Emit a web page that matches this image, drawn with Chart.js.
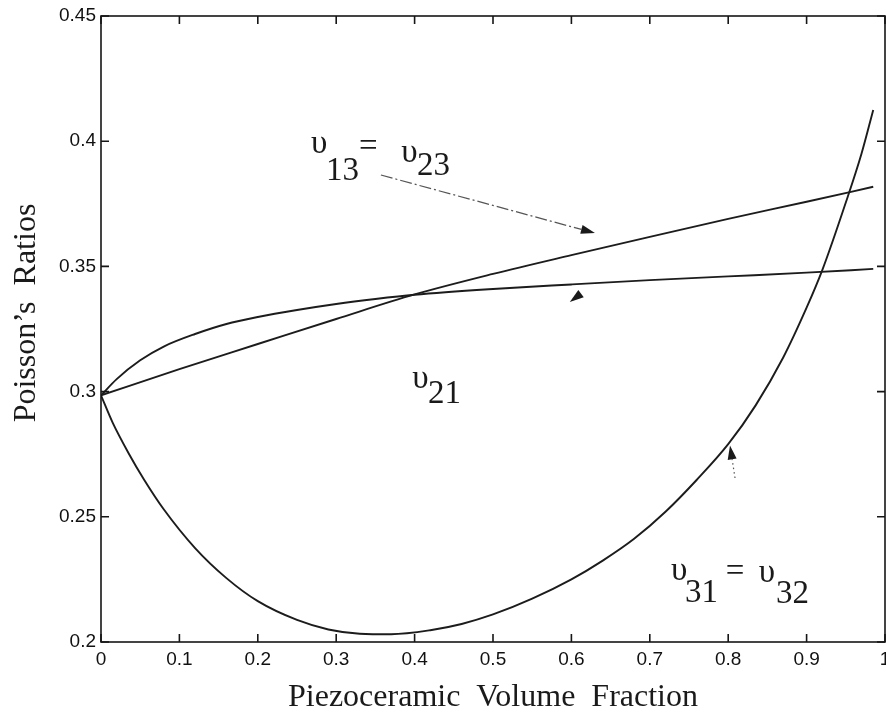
<!DOCTYPE html>
<html>
<head>
<meta charset="utf-8">
<script src="https://cdn.jsdelivr.net/npm/chart.js@4.4.0/dist/chart.umd.min.js"></script>
<style>
  body { margin: 0; background: #fff; }
  canvas { display: block; }
</style>
</head>
<body>
<canvas id="poisson" width="886" height="727"></canvas>
<script>
// Axis ticks and labels
const xTicks = [0, 0.1, 0.2, 0.3, 0.4, 0.5, 0.6, 0.7, 0.8, 0.9, 1];
const xTickLabels = ['0', '0.1', '0.2', '0.3', '0.4', '0.5', '0.6', '0.7', '0.8', '0.9', '1'];
const yTicks = [0.2, 0.25, 0.3, 0.35, 0.4, 0.45];
const yTickLabels = ['0.2', '0.25', '0.3', '0.35', '0.4', '0.45'];

// nu13 = nu23
const nu13X = [0, 0.1, 0.2, 0.3, 0.4, 0.5, 0.6, 0.7, 0.8, 0.9, 0.985];
const nu13Y = [0.2985, 0.309, 0.319, 0.329, 0.3388, 0.347, 0.3545, 0.3618, 0.369, 0.3758, 0.3818];

// nu21
const nu21X = [0, 0.02, 0.05, 0.08, 0.12, 0.16, 0.2, 0.25, 0.3, 0.35, 0.4, 0.5, 0.6, 0.7, 0.8, 0.9, 0.985];
const nu21Y = [0.2985, 0.305, 0.3125, 0.318, 0.323, 0.327, 0.3298, 0.3326, 0.335, 0.337, 0.3387, 0.341, 0.3428, 0.3445, 0.346, 0.3475, 0.349];

// nu31 = nu32
const nu31X = [0, 0.015, 0.035, 0.055, 0.08, 0.12, 0.16, 0.2, 0.25, 0.29, 0.33, 0.37, 0.42, 0.46, 0.5,
               0.55, 0.6, 0.64, 0.68, 0.72, 0.76, 0.8, 0.835, 0.87, 0.9, 0.92, 0.95, 0.97, 0.985];
const nu31Y = [0.2985, 0.2875, 0.2755, 0.2648, 0.253, 0.2375, 0.2255, 0.2163, 0.2088, 0.205, 0.2033, 0.2031, 0.2047, 0.2072, 0.211,
               0.2173, 0.225, 0.2325, 0.2412, 0.252, 0.2648, 0.279, 0.2945, 0.3135, 0.3335, 0.3485, 0.3755, 0.395, 0.4125];

// text labels inside the plot, placed in data units (left, baseline)
const labelPieces = [
  ['υ', 0.268, 0.3953], ['13', 0.287, 0.3845], ['=', 0.329, 0.3941], ['υ', 0.383, 0.3916], ['23', 0.403, 0.3864],
  ['υ', 0.397, 0.3014], ['21', 0.417, 0.2955],
  ['υ', 0.727, 0.2248], ['31', 0.745, 0.2160], ['=', 0.797, 0.2244], ['υ', 0.839, 0.2240], ['32', 0.861, 0.2156]
];

// arrows: [fromX, fromY, toX, toY, dash, showShaft]
const arrows = [
  [0.357, 0.3865, 0.630, 0.3633, [12, 3, 2, 3], true],
  [0.615, 0.3398, 0.598, 0.3358, [], false],
  [0.8087, 0.2655, 0.8023, 0.2785, [1.5, 3], true]
];

const toPoints = (xs, ys) => xs.map((x, i) => ({ x: x, y: ys[i] }));

const lineStyle = {
  borderColor: '#1c1c1c',
  borderWidth: 1.9,
  pointRadius: 0,
  fill: false,
  cubicInterpolationMode: 'monotone'
};

const framePlugin = {
  id: 'frame',
  afterDatasetsDraw(chart) {
    const { ctx, chartArea: a, scales: { x, y } } = chart;
    ctx.save();
    ctx.strokeStyle = '#161616';
    ctx.lineWidth = 1.6;
    ctx.strokeRect(a.left, a.top, a.right - a.left, a.bottom - a.top);
    ctx.beginPath();
    xTicks.forEach(v => {
      const px = x.getPixelForValue(v);
      ctx.moveTo(px, a.bottom); ctx.lineTo(px, a.bottom - 8);
      ctx.moveTo(px, a.top); ctx.lineTo(px, a.top + 8);
    });
    yTicks.forEach(v => {
      const py = y.getPixelForValue(v);
      ctx.moveTo(a.left, py); ctx.lineTo(a.left + 8, py);
      ctx.moveTo(a.right, py); ctx.lineTo(a.right - 8, py);
    });
    ctx.stroke();

    // annotation text
    ctx.fillStyle = '#1a1a1a';
    ctx.font = '33px "Liberation Serif", "Times New Roman", serif';
    ctx.textAlign = 'left';
    ctx.textBaseline = 'alphabetic';
    labelPieces.forEach(([t, lx, ly]) => {
      ctx.fillText(t, x.getPixelForValue(lx), y.getPixelForValue(ly));
    });

    // arrows
    arrows.forEach(([x0, y0, x1, y1, dash, shaft]) => {
      const p0x = x.getPixelForValue(x0), p0y = y.getPixelForValue(y0);
      const p1x = x.getPixelForValue(x1), p1y = y.getPixelForValue(y1);
      const ang = Math.atan2(p1y - p0y, p1x - p0x);
      const len = 14, half = 4.5;
      const bx = p1x - Math.cos(ang) * len, by = p1y - Math.sin(ang) * len;
      if (shaft) {
        ctx.beginPath();
        ctx.setLineDash(dash);
        ctx.strokeStyle = '#555';
        ctx.lineWidth = 1.2;
        ctx.moveTo(p0x, p0y);
        ctx.lineTo(bx, by);
        ctx.stroke();
        ctx.setLineDash([]);
      }
      ctx.beginPath();
      ctx.fillStyle = '#1a1a1a';
      ctx.moveTo(p1x, p1y);
      ctx.lineTo(bx + Math.sin(ang) * half, by - Math.cos(ang) * half);
      ctx.lineTo(bx - Math.sin(ang) * half, by + Math.cos(ang) * half);
      ctx.closePath();
      ctx.fill();
    });
    ctx.restore();
  }
};

const tickFont = { family: '"Liberation Sans", Arial, sans-serif', size: 19 };
const titleFont = { family: '"Liberation Serif", "Times New Roman", serif', size: 32 };

new Chart(document.getElementById('poisson'), {
  type: 'line',
  data: {
    datasets: [
      Object.assign({ label: 'υ13 = υ23', data: toPoints(nu13X, nu13Y) }, lineStyle),
      Object.assign({ label: 'υ21', data: toPoints(nu21X, nu21Y) }, lineStyle),
      Object.assign({ label: 'υ31 = υ32', data: toPoints(nu31X, nu31Y) }, lineStyle)
    ]
  },
  options: {
    responsive: false,
    animation: false,
    layout: { padding: { top: 16, right: 1, bottom: 0, left: 0 } },
    plugins: {
      legend: { display: false },
      tooltip: { enabled: false }
    },
    scales: {
      x: {
        type: 'linear',
        min: 0,
        max: 1,
        afterBuildTicks: scale => { scale.ticks = xTicks.map(v => ({ value: v })); },
        afterFit: scale => { scale.height = 85; scale.paddingLeft = 0; scale.paddingRight = 0; },
        grid: { display: false, drawTicks: false },
        border: { display: false },
        ticks: {
          autoSkip: false,
          maxRotation: 0,
          padding: 6,
          color: '#111',
          font: tickFont,
          callback: (v, i) => xTickLabels[i]
        },
        title: {
          display: true,
          text: 'Piezoceramic  Volume  Fraction',
          color: '#1a1a1a',
          font: titleFont,
          padding: { top: 0, bottom: 10 }
        }
      },
      y: {
        min: 0.2,
        max: 0.45,
        afterBuildTicks: scale => { scale.ticks = yTicks.map(v => ({ value: v })); },
        afterFit: scale => { scale.width = 101; scale.paddingTop = 0; scale.paddingBottom = 0; },
        grid: { display: false, drawTicks: false },
        border: { display: false },
        ticks: {
          autoSkip: false,
          padding: 5,
          color: '#111',
          font: tickFont,
          callback: (v, i) => yTickLabels[i]
        },
        title: {
          display: true,
          text: '    Poisson’s  Ratios',
          color: '#1a1a1a',
          font: titleFont,
          padding: { top: 7, bottom: 0 }
        }
      }
    }
  },
  plugins: [framePlugin]
});
</script>
</body>
</html>
